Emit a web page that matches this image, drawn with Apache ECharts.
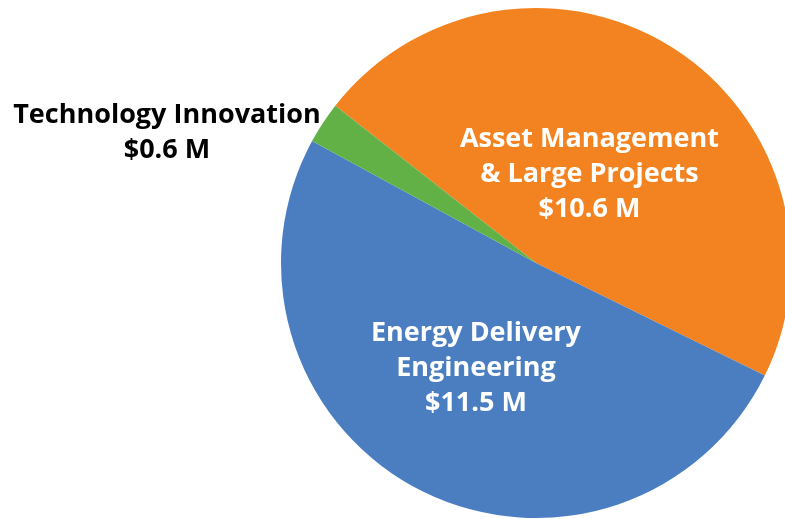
<!DOCTYPE html>
<html>
<head>
<meta charset="utf-8">
<script src="https://cdn.jsdelivr.net/npm/echarts@6/dist/echarts.min.js"></script>
<style>
html,body{margin:0;padding:0;background:#fff;}
#chart{width:785px;height:519px;}
</style>
</head>
<body>
<div id="chart"></div>
<script>
const categories = ['Asset Management\n& Large Projects', 'Energy Delivery\nEngineering', 'Technology Innovation'];
const values = [10.6, 11.5, 0.6];
const colors = ['#F38321', '#4A7EC1', '#62B146'];
const labelOffsets = [[-16, 22], [0, -11], [-260, -58]];
const labelColors = ['#ffffff', '#ffffff', '#000000'];

const chart = echarts.init(document.getElementById('chart'), null, {renderer: 'canvas'});
const data = categories.map((c, i) => ({
  name: c,
  value: values[i],
  itemStyle: {color: colors[i]},
  label: {
    position: 'inside',
    offset: labelOffsets[i],
    color: labelColors[i]
  }
}));
chart.setOption({
  animation: false,
  series: [{
    type: 'pie',
    center: [536, 263],
    radius: [0, 255],
    startAngle: 141.9,
    clockwise: true,
    avoidLabelOverlap: false,
    data: data,
    itemStyle: {borderWidth: 0},
    label: {
      show: true,
      position: 'inside',
      fontFamily: '"Open Sans", sans-serif',
      fontWeight: 'bold',
      fontSize: 27,
      lineHeight: 35,
      align: 'center',
      formatter: p => p.name + '\n$' + p.value.toFixed(1) + ' M'
    },
    labelLine: {show: false},
    emphasis: {disabled: true}
  }]
});
</script>
</body>
</html>
